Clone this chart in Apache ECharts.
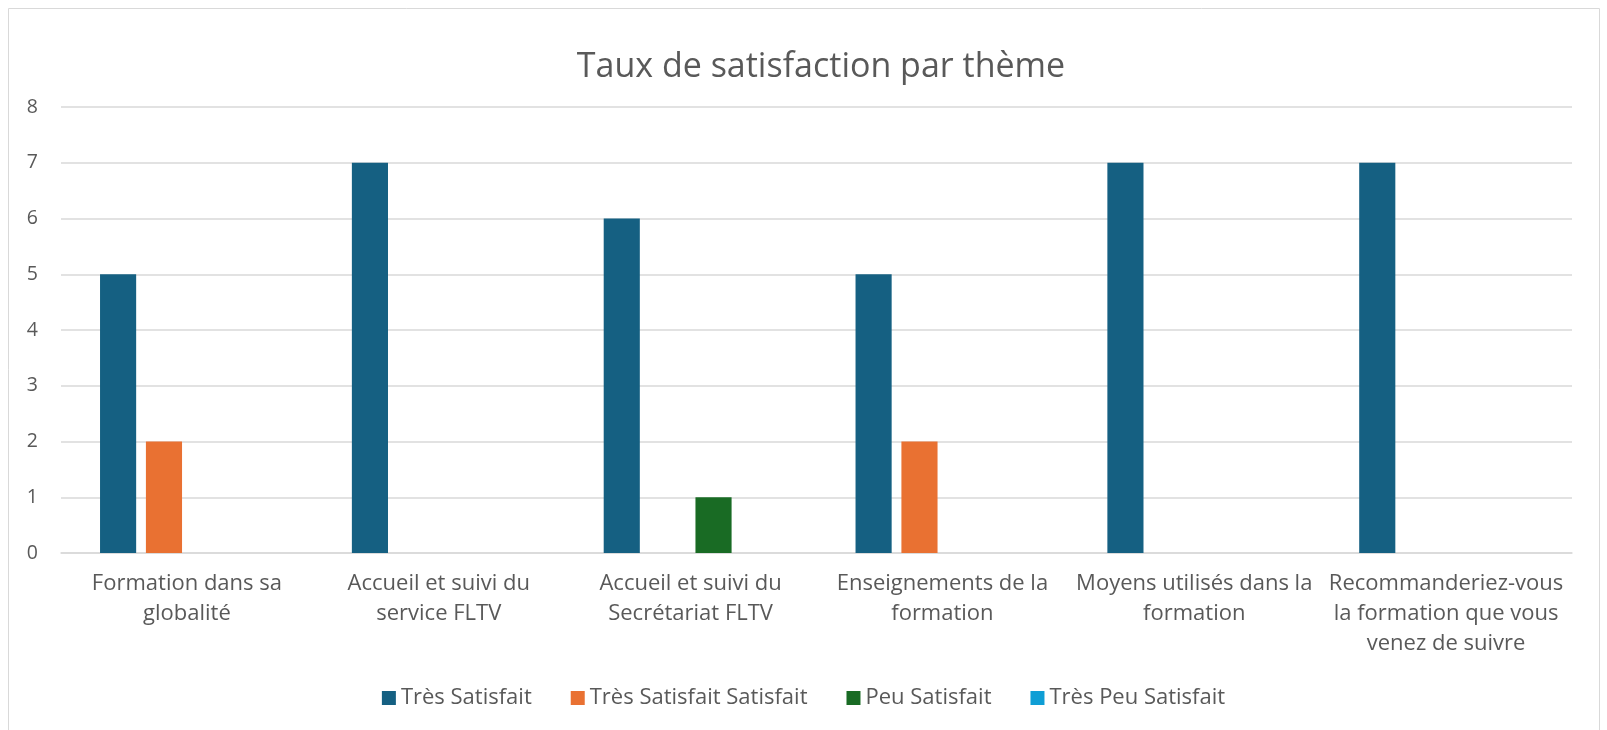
<!DOCTYPE html>
<html>
<head>
<meta charset="utf-8">
<script src="https://cdn.jsdelivr.net/npm/echarts@6/dist/echarts.min.js"></script>
<style>
html,body{margin:0;padding:0;background:#fff;}
#chart{width:1607px;height:730px;}
</style>
</head>
<body>
<div id="chart"></div>
<script>
const titleText = 'Taux de satisfaction par thème';
const categories = [
  'Formation dans sa\nglobalité',
  'Accueil et suivi du\nservice FLTV',
  'Accueil et suivi du\nSecrétariat FLTV',
  'Enseignements de la\nformation',
  'Moyens utilisés dans la\nformation',
  'Recommanderiez-vous\nla formation que vous\nvenez de suivre'
];
const seriesNames = ['Très Satisfait', 'Très Satisfait Satisfait', 'Peu Satisfait', 'Très Peu Satisfait'];
const tresSatisfait = [5, 7, 6, 5, 7, 7];
const tresSatisfaitSatisfait = [2, 0, 0, 2, 0, 0];
const peuSatisfait = [0, 0, 1, 0, 0, 0];
const tresPeuSatisfait = [0, 0, 0, 0, 0, 0];
const yTicks = [0, 1, 2, 3, 4, 5, 6, 7, 8];
const colors = ['#156082', '#E97132', '#196B24', '#0F9ED5'];

const values = [tresSatisfait, tresSatisfaitSatisfait, peuSatisfait, tresPeuSatisfait];
const FONT = '"Open Sans", "Liberation Sans", sans-serif';
const chart = echarts.init(document.getElementById('chart'), null, {renderer: 'canvas'});
chart.setOption({
  animation: false,
  color: colors,
  textStyle: {fontFamily: FONT},
  title: {
    text: titleText,
    left: 816,
    textAlign: 'center',
    top: 45,
    textStyle: {fontFamily: FONT, fontSize: 34, fontWeight: 'normal', color: '#595959'}
  },
  graphic: [{
    type: 'rect',
    shape: {x: 8.5, y: 8.5, width: 1591, height: 760},
    style: {fill: 'none', stroke: '#D9D9D9', lineWidth: 1},
    silent: true
  }],
  legend: {
    data: seriesNames,
    left: 'center',
    top: 682,
    icon: 'rect',
    itemWidth: 14,
    itemHeight: 14,
    itemGap: 39,
    textStyle: {fontFamily: FONT, fontSize: 22, color: '#595959'}
  },
  grid: {left: 61, right: 35, top: 107, bottom: 177, containLabel: false},
  xAxis: {
    type: 'category',
    data: categories,
    axisTick: {show: false},
    axisLine: {show: true, lineStyle: {color: '#D9D9D9', width: 1.5}},
    axisLabel: {
      interval: 0,
      margin: 16,
      fontFamily: FONT,
      fontSize: 22,
      lineHeight: 30,
      color: '#595959',
      align: 'center'
    }
  },
  yAxis: {
    type: 'value',
    min: yTicks[0],
    max: yTicks[yTicks.length - 1],
    interval: 1,
    axisLine: {show: false},
    axisTick: {show: false},
    splitLine: {lineStyle: {color: '#D9D9D9', width: 1.5}},
    axisLabel: {margin: 23, fontFamily: FONT, fontSize: 19.5, color: '#595959'}
  },
  series: seriesNames.map((name, i) => ({
    name: name,
    type: 'bar',
    data: values[i],
    barGap: '27%',
    barCategoryGap: '31%',
    itemStyle: {color: colors[i]}
  }))
});
</script>
</body>
</html>
